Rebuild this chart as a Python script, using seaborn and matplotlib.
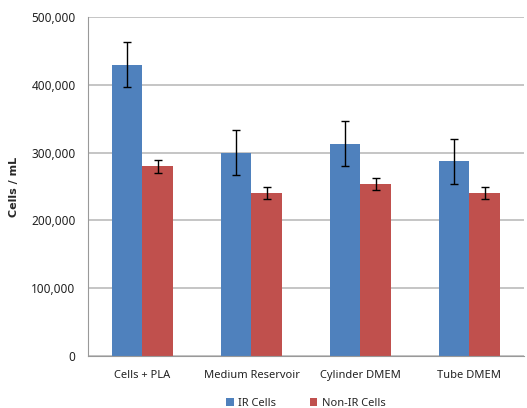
import matplotlib
matplotlib.use("Agg")
import matplotlib.pyplot as plt
import seaborn as sns
import pandas as pd
import numpy as np

categories = ["Cells + PLA", "Medium Reservoir", "Cylinder DMEM", "Tube DMEM"]
series = ["IR Cells", "Non-IR Cells"]
ir_values = [430000, 300000, 313000, 287000]
nonir_values = [280000, 240000, 254000, 240000]
ir_err = [33000, 33000, 33000, 33000]
nonir_err = [9500, 9000, 9000, 9000]
yticks = [0, 100000, 200000, 300000, 400000, 500000]

colors = ["#4F81BD", "#C0504D"]

sns.set_style("white")
plt.rcParams['font.family'] = ['Noto Sans', 'DejaVu Sans']

df = pd.DataFrame({
    "Category": categories * 2,
    "Series": [series[0]] * 4 + [series[1]] * 4,
    "Value": ir_values + nonir_values,
    "Err": ir_err + nonir_err,
})

fig = plt.figure(figsize=(5.27, 4.08), dpi=100)
ax = fig.add_axes([0.167, 0.1275, 0.827, 0.8305])

sns.barplot(data=df, x="Category", y="Value", hue="Series", order=categories,
            hue_order=series, palette=colors, width=0.565, gap=0,
            errorbar=None, ax=ax, saturation=1, zorder=2, legend=True,
            linewidth=0)

# error bars at bar centers
for container, errs in zip(ax.containers, [ir_err, nonir_err]):
    for patch, e in zip(container.patches, errs):
        xc = patch.get_x() + patch.get_width() / 2
        ax.errorbar(xc, patch.get_height(), yerr=e, color="black", lw=1,
                    capsize=3, capthick=1, zorder=3)

ax.set_ylim(0, 500000)
ax.set_xlim(-0.5, 3.5)
ax.set_yticks(yticks)
ax.set_yticklabels([f"{v:,}" for v in yticks], fontsize=8.5, color="#222222")
ax.yaxis.grid(True, color="#BBBBBB", lw=1.2, zorder=0)
ax.set_axisbelow(True)
ax.tick_params(axis="y", length=0, pad=9)
ax.tick_params(axis="x", which="major", length=0, labelsize=8, pad=10, colors="#222222")
ax.set_xticks(np.arange(-0.5, 4.0, 1.0), minor=True)
ax.tick_params(axis="x", which="minor", length=5, color="#999999", width=1, direction="out")
ax.set_xlabel("")
ax.set_ylabel("Cells / mL", fontsize=8, fontweight="bold", labelpad=9,
              family=["DejaVu Sans"])

for s in ["top", "right"]:
    ax.spines[s].set_visible(False)
ax.spines["left"].set_color("#999999")
ax.spines["bottom"].set_color("#999999")

leg = ax.legend(loc="lower center", bbox_to_anchor=(0.5, -0.185), ncol=2,
                frameon=False, fontsize=8, handlelength=0.7, handleheight=0.7,
                columnspacing=3, handletextpad=0.4)

fig.savefig("out.png", dpi=100)
